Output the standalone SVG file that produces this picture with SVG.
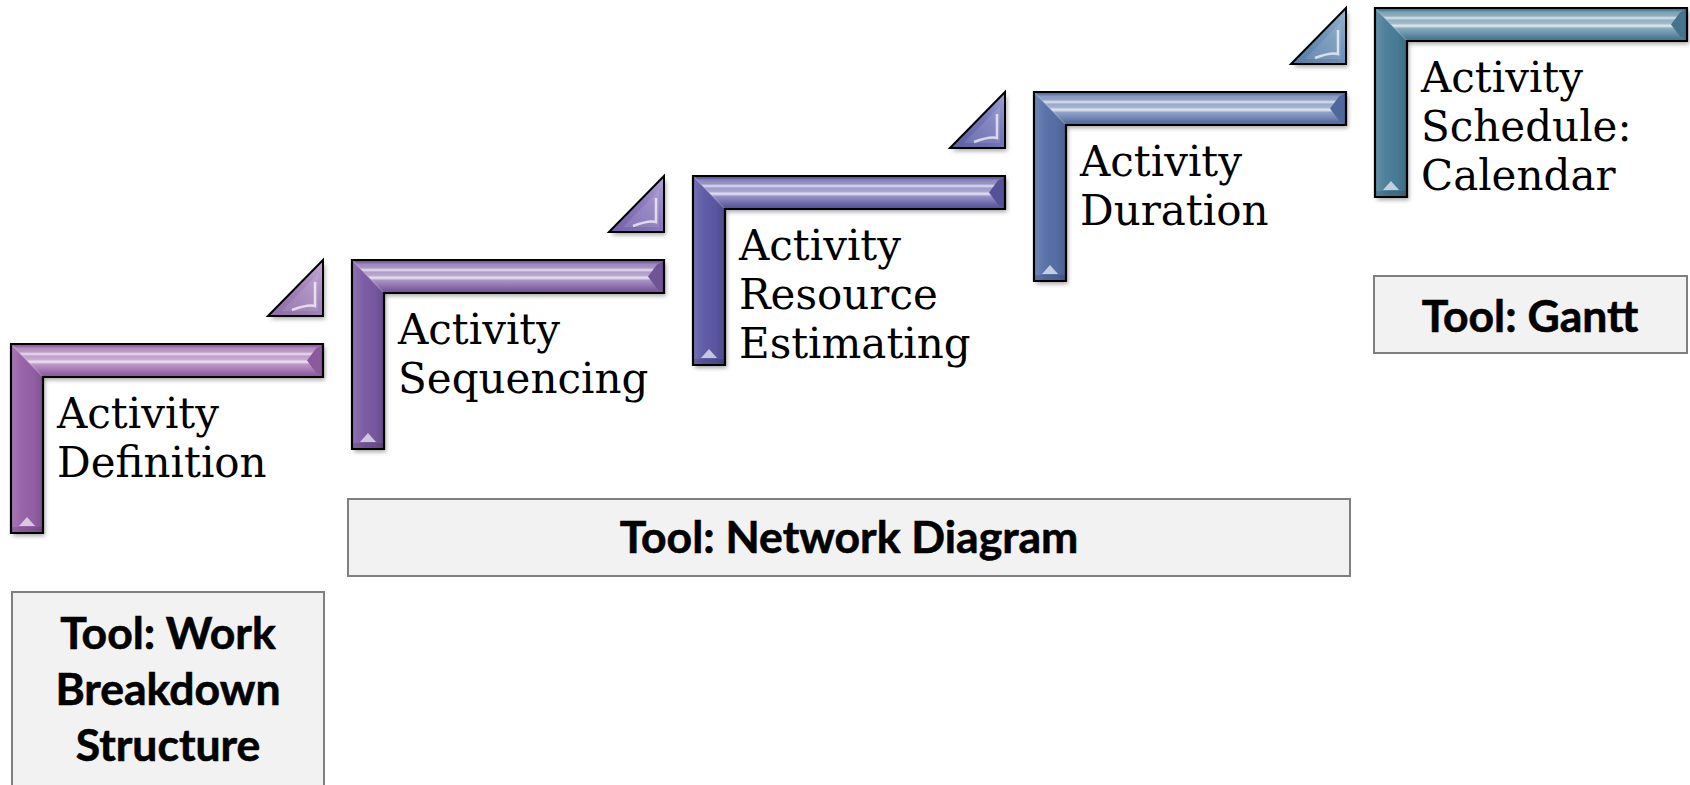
<svg xmlns="http://www.w3.org/2000/svg" xmlns:xlink="http://www.w3.org/1999/xlink" width="1690" height="785" viewBox="0 0 1690 785">
<style>
.st{font-family:"DejaVu Serif","Liberation Serif",serif;font-size:42px;fill:#000}
.tl{font-family:Lato,"Liberation Sans",sans-serif;font-weight:700;font-size:44.5px;fill:#000;text-anchor:middle;stroke:#000;stroke-width:0.6}
.box{fill:#f2f2f2;stroke:#7f7f7f;stroke-width:2}
.ol{fill:none;stroke:#000;stroke-width:2.2;stroke-linejoin:miter}
</style>
<defs>
<filter id="sh" x="-10%" y="-10%" width="130%" height="130%">
<feDropShadow dx="2" dy="3" stdDeviation="2" flood-color="#000" flood-opacity="0.35"/>
</filter>
<linearGradient id="gTop" x1="0" y1="0" x2="0" y2="1">
<stop offset="0" stop-color="#000" stop-opacity="0.03"/>
<stop offset="0.12" stop-color="#fff" stop-opacity="0.28"/>
<stop offset="0.24" stop-color="#fff" stop-opacity="0.36"/>
<stop offset="0.3" stop-color="#fff" stop-opacity="0.8"/>
<stop offset="0.37" stop-color="#fff" stop-opacity="0.4"/>
<stop offset="0.47" stop-color="#fff" stop-opacity="0.48"/>
<stop offset="0.54" stop-color="#fff" stop-opacity="0.85"/>
<stop offset="0.62" stop-color="#fff" stop-opacity="0.35"/>
<stop offset="0.8" stop-color="#fff" stop-opacity="0.14"/>
<stop offset="1" stop-color="#000" stop-opacity="0.1"/>
</linearGradient>
<linearGradient id="gLeft" x1="0" y1="0" x2="1" y2="0">
<stop offset="0" stop-color="#fff" stop-opacity="0.16"/>
<stop offset="0.3" stop-color="#fff" stop-opacity="0.04"/>
<stop offset="0.7" stop-color="#000" stop-opacity="0.02"/>
<stop offset="1" stop-color="#000" stop-opacity="0.16"/>
</linearGradient>
<linearGradient id="gTri" x1="0" y1="1" x2="1" y2="0">
<stop offset="0" stop-color="#000" stop-opacity="0.08"/>
<stop offset="0.6" stop-color="#fff" stop-opacity="0.12"/>
<stop offset="1" stop-color="#fff" stop-opacity="0.38"/>
</linearGradient>
<g id="L">
<path d="M0,0H312V33H32V189H0Z" filter="url(#sh)"/>
<path d="M0,0H312V33H32Z" fill="url(#gTop)"/>
<path d="M0,0L32,33V189H0Z" fill="url(#gLeft)"/>
<path d="M312,1V32L305,28.5L296,16.5L305,4.5Z"/>
<path d="M312,1V32L305,28.5L296,16.5L305,4.5Z" fill="#000" fill-opacity="0.07"/>
<path d="M1,183H31V188H1Z" fill="#000" fill-opacity="0.12"/>
<path d="M8,182L16,173L24,182Z" fill="#fff" fill-opacity="0.65"/>
<path d="M0,0L32,33" stroke="#fff" stroke-opacity="0.2" stroke-width="1.5"/>
<path class="ol" d="M0,0H312V33H32V189H0Z"/>
</g>
<g id="T">
<path d="M0,56L55,0V56Z" filter="url(#sh)"/>
<path d="M0,56L55,0V56Z" fill="url(#gTri)"/>
<path d="M14,51L50,14V51Z" fill="#fff" fill-opacity="0.1"/>
<path d="M47,22V46Q40,44 24,50" fill="none" stroke="#fff" stroke-opacity="0.7" stroke-width="2.5"/>
<path d="M0,56L55,0V56Z" fill="none" stroke="#000" stroke-width="2"/>
</g>
</defs>

<g id="connectors">
<use xlink:href="#T" href="#T" transform="translate(268,260)" fill="#9a76b6"/>
<use xlink:href="#T" href="#T" transform="translate(609,176)" fill="#7f6cb8"/>
<use xlink:href="#T" href="#T" transform="translate(950,92)" fill="#6568b2"/>
<use xlink:href="#T" href="#T" transform="translate(1291,8)" fill="#5e88b2"/>
</g>

<g id="step1" transform="translate(11,344)">
<use xlink:href="#L" href="#L" fill="#9660a8"/>
<text class="st" x="46" y="84">Activity</text>
<text class="st" x="46" y="133">Definition</text>
</g>
<g id="step2" transform="translate(352,260)">
<use xlink:href="#L" href="#L" fill="#7a5aa4"/>
<text class="st" x="46" y="84">Activity</text>
<text class="st" x="46" y="133">Sequencing</text>
</g>
<g id="step3" transform="translate(693,176)">
<use xlink:href="#L" href="#L" fill="#5c58a5"/>
<text class="st" x="46" y="84">Activity</text>
<text class="st" x="46" y="133">Resource</text>
<text class="st" x="46" y="182">Estimating</text>
</g>
<g id="step4" transform="translate(1034,92)">
<use xlink:href="#L" href="#L" fill="#5670a8"/>
<text class="st" x="46" y="84">Activity</text>
<text class="st" x="46" y="133">Duration</text>
</g>
<g id="step5" transform="translate(1375,8)">
<use xlink:href="#L" href="#L" fill="#4a7d98"/>
<text class="st" x="46" y="84">Activity</text>
<text class="st" x="46" y="133">Schedule:</text>
<text class="st" x="46" y="182">Calendar</text>
</g>

<g id="tool-wbs">
<rect class="box" x="12" y="592" width="312" height="230"/>
<text class="tl" x="168" y="649">Tool: Work</text>
<text class="tl" x="168" y="705">Breakdown</text>
<text class="tl" x="168" y="761">Structure</text>
</g>
<g id="tool-network">
<rect class="box" x="348" y="499" width="1002" height="77"/>
<text class="tl" x="849" y="553">Tool: Network Diagram</text>
</g>
<g id="tool-gantt">
<rect class="box" x="1374" y="276" width="313" height="77"/>
<text class="tl" x="1530" y="332">Tool: Gantt</text>
</g>
</svg>
